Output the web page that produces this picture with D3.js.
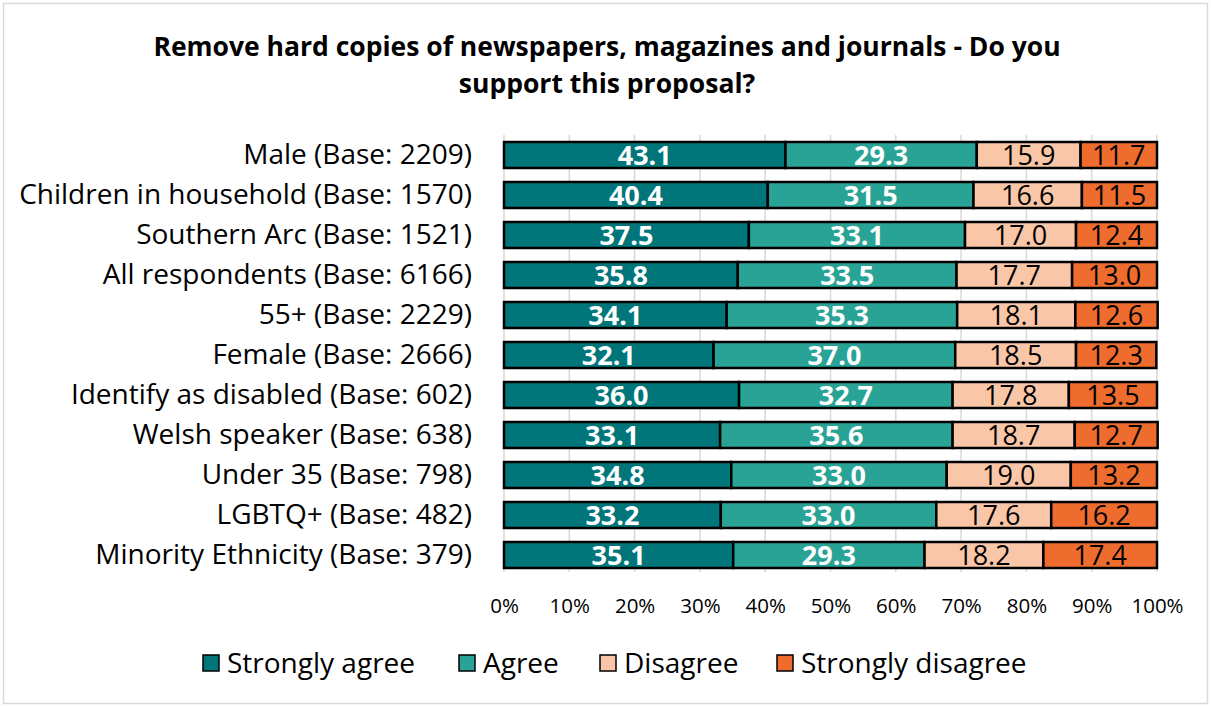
<!DOCTYPE html>
<html>
<head>
<meta charset="utf-8">
<script src="https://cdn.jsdelivr.net/npm/d3@7"></script>
<style>
  html, body { margin: 0; padding: 0; background: #fff; }
  svg { display: block; }
  text { font-family: "Open Sans", "Lato", sans-serif; }
</style>
</head>
<body>
<svg id="chart" width="1211" height="707"></svg>
<script>
const categories = [
  "Male (Base: 2209)",
  "Children in household (Base: 1570)",
  "Southern Arc (Base: 1521)",
  "All respondents (Base: 6166)",
  "55+ (Base: 2229)",
  "Female (Base: 2666)",
  "Identify as disabled (Base: 602)",
  "Welsh speaker (Base: 638)",
  "Under 35 (Base: 798)",
  "LGBTQ+ (Base: 482)",
  "Minority Ethnicity (Base: 379)"
];
const seriesNames = ["Strongly agree", "Agree", "Disagree", "Strongly disagree"];
const stronglyAgree    = [43.1, 40.4, 37.5, 35.8, 34.1, 32.1, 36.0, 33.1, 34.8, 33.2, 35.1];
const agree            = [29.3, 31.5, 33.1, 33.5, 35.3, 37.0, 32.7, 35.6, 33.0, 33.0, 29.3];
const disagree         = [15.9, 16.6, 17.0, 17.7, 18.1, 18.5, 17.8, 18.7, 19.0, 17.6, 18.2];
const stronglyDisagree = [11.7, 11.5, 12.4, 13.0, 12.6, 12.3, 13.5, 12.7, 13.2, 16.2, 17.4];
const tickValues = [0, 10, 20, 30, 40, 50, 60, 70, 80, 90, 100];

const colors = ["#00767b", "#29a396", "#f9c7a7", "#ee6c2d"];
const labelColors = ["#ffffff", "#ffffff", "#000000", "#000000"];
const labelWeights = ["bold", "bold", "normal", "normal"];

const rows = categories.map((c, i) => ({
  category: c,
  "Strongly agree": stronglyAgree[i],
  "Agree": agree[i],
  "Disagree": disagree[i],
  "Strongly disagree": stronglyDisagree[i]
}));
const stacked = d3.stack().keys(seriesNames)(rows);

const svg = d3.select("#chart");
const W = 1211, H = 707;

// chart frame
svg.append("rect")
  .attr("x", 3.5).attr("y", 3.5)
  .attr("width", W - 7).attr("height", H - 7)
  .attr("fill", "#fff").attr("stroke", "#d9d9d9").attr("stroke-width", 1.5);

// title
const title = svg.append("text")
  .attr("text-anchor", "middle")
  .attr("font-weight", "bold")
  .attr("font-size", 26.5)
  .attr("fill", "#000");
title.append("tspan").attr("x", 607).attr("y", 56)
  .text("Remove hard copies of newspapers, magazines and journals - Do you");
title.append("tspan").attr("x", 607).attr("y", 93)
  .text("support this proposal?");

const x = d3.scaleLinear().domain([0, 100]).range([504, 1157]);
const y = d3.scaleBand().domain(categories).range([135, 575]).paddingInner(0.35).paddingOuter(0.175);

// gridlines
svg.append("g")
  .selectAll("line")
  .data(tickValues)
  .join("line")
  .attr("x1", d => x(d)).attr("x2", d => x(d))
  .attr("y1", 135).attr("y2", 572)
  .attr("stroke", "#d9d9d9").attr("stroke-width", 1.5);

// x axis tick labels
const xAxis = d3.axisBottom(x).tickValues(tickValues).tickFormat(d => d + "%").tickSize(0).tickPadding(0);
const gx = svg.append("g").attr("transform", "translate(0,606)").call(xAxis);
gx.select(".domain").remove();
gx.selectAll("text")
  .attr("font-size", 20.5)
  .attr("fill", "#000")
  .attr("dy", "0.36em")
  .style("font-family", "'Open Sans', Lato, sans-serif");

// y axis labels
const yAxis = d3.axisLeft(y).tickSize(0).tickPadding(0);
const gy = svg.append("g").attr("transform", "translate(472,0)").call(yAxis);
gy.select(".domain").remove();
gy.selectAll("text")
  .attr("font-size", 28)
  .attr("fill", "#000")
  .style("font-family", "'Open Sans', Lato, sans-serif");

// bars
const layers = svg.append("g").selectAll("g")
  .data(stacked)
  .join("g")
  .attr("fill", (d, i) => colors[i]);

layers.selectAll("rect")
  .data(d => d)
  .join("rect")
  .attr("x", d => x(d[0]))
  .attr("y", d => y(d.data.category))
  .attr("width", d => x(d[1]) - x(d[0]))
  .attr("height", y.bandwidth())
  .attr("stroke", "#000")
  .attr("stroke-width", 2.5);

// value labels
layers.each(function(layer, si) {
  d3.select(this).selectAll("text")
    .data(layer)
    .join("text")
    .attr("x", d => (x(d[0]) + x(d[1])) / 2)
    .attr("y", d => y(d.data.category) + y.bandwidth() / 2)
    .attr("dy", "0.36em")
    .attr("text-anchor", "middle")
    .attr("font-size", 27)
    .attr("font-weight", labelWeights[si])
    .attr("fill", labelColors[si])
    .text(d => (d[1] - d[0]).toFixed(1));
});

// legend
const legendItems = [
  { name: seriesNames[0], x: 203 },
  { name: seriesNames[1], x: 459 },
  { name: seriesNames[2], x: 600 },
  { name: seriesNames[3], x: 777 }
];
const lg = svg.append("g").selectAll("g")
  .data(legendItems)
  .join("g")
  .attr("transform", d => `translate(${d.x},663)`);
lg.append("rect")
  .attr("x", 0).attr("y", -8)
  .attr("width", 16).attr("height", 16)
  .attr("fill", (d, i) => colors[i])
  .attr("stroke", "#000").attr("stroke-width", 1.5);
lg.append("text")
  .attr("x", 24).attr("y", 0).attr("dy", "0.36em")
  .attr("font-size", 28)
  .attr("fill", "#000")
  .text(d => d.name);
</script>
</body>
</html>
